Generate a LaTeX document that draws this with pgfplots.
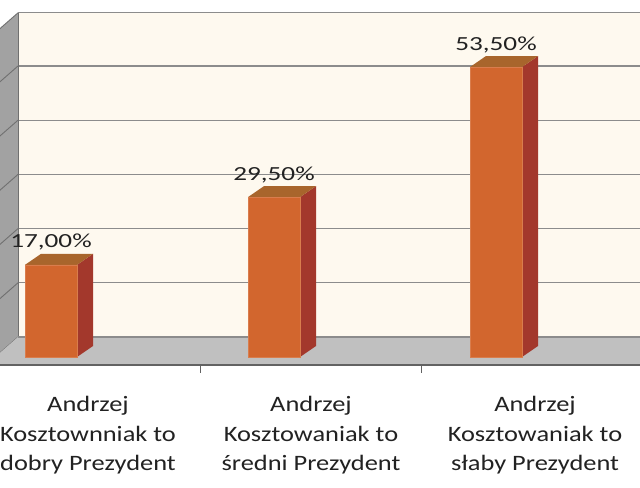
\documentclass[border=0pt]{standalone}
\usepackage{fontspec}
\setmainfont{Carlito}
\newfontfamily\pctfont[FakeStretch=1.36]{Carlito}
\newfontfamily\labfont[FakeStretch=1.2]{Carlito}
\usepackage{pgfplots}
\pgfplotsset{compat=1.18}
\definecolor{wallbg}{HTML}{FEF9EF}
\definecolor{gridc}{HTML}{8C8C8C}
\definecolor{leftwall}{HTML}{A2A2A2}
\definecolor{floorc}{HTML}{C0C0C0}
\definecolor{barfront}{HTML}{D2662E}
\definecolor{barside}{HTML}{A3382C}
\definecolor{bartop}{HTML}{A8652C}
\definecolor{txt}{HTML}{222222}
\begin{document}
\begin{tikzpicture}
\begin{axis}[
  scale only axis, width=640pt, height=487pt,
  xmin=0, xmax=640, ymin=-23.985, ymax=65.867,
  hide axis, clip=true,
]
% background
\addplot[draw=none, fill=white] coordinates {(0,-23.985) (640,-23.985) (640,65.867) (0,65.867)} -- cycle;
% back wall
\addplot[draw=none, fill=wallbg] coordinates {(18,3.69) (700,3.69) (700,63.5) (18,63.5)} -- cycle;
% back gridlines
\foreach \g in {13.69,23.69,33.69,43.69,53.69,63.5}{
  \addplot[gridc, line width=1.3pt] coordinates {(18,\g) (700,\g)};
}
% left wall
\addplot[draw=none, fill=leftwall] coordinates {(18,3.69) (18,63.5) (-14,58.33) (-14,-1.48)} -- cycle;
\foreach \g/\h in {3.69/-1.48,13.69/8.52,23.69/18.52,33.69/28.52,43.69/38.52,53.69/48.52,63.5/58.33}{
  \addplot[gridc!80!black, line width=0.9pt] coordinates {(18,\g) (-14,\h)};
}
\addplot[gridc!80!black, line width=0.9pt] coordinates {(18,3.69) (18,63.5)};
% floor
\addplot[draw=none, fill=floorc] coordinates {(18,3.69) (700,3.69) (668,-1.48) (-14,-1.48)} -- cycle;
\addplot[gridc, line width=1.3pt] coordinates {(18,3.69) (700,3.69)};
\addplot[gridc!70!black, line width=1.3pt] coordinates {(0,-1.48) (640,-1.48)};
% category ticks
\addplot[gridc!70!black, line width=1pt] coordinates {(200,-1.48) (200,-3.0)};
\addplot[gridc!70!black, line width=1pt] coordinates {(421,-1.48) (421,-3.0)};
% bar sides
\addplot[draw=none, fill=barside] coordinates {(77,0) (93,2.03) (93,19.03) (77,17)} -- cycle;
\addplot[draw=none, fill=barside] coordinates {(300,0) (316,2.03) (316,31.53) (300,29.5)} -- cycle;
\addplot[draw=none, fill=barside] coordinates {(522,0) (538,2.03) (538,55.53) (522,53.5)} -- cycle;
% bar tops
\addplot[draw=none, fill=bartop] coordinates {(25,17) (41,19.03) (93,19.03) (77,17)} -- cycle;
\addplot[draw=none, fill=bartop] coordinates {(248,29.5) (264,31.53) (316,31.53) (300,29.5)} -- cycle;
\addplot[draw=none, fill=bartop] coordinates {(470,53.5) (486,55.53) (538,55.53) (522,53.5)} -- cycle;
% bar fronts
\addplot[ybar, bar width=52, draw=barfront!85!white, line width=0.4pt, fill=barfront,
  point meta=explicit symbolic,
  nodes near coords,
  every node near coord/.append style={anchor=base, yshift=17pt, font=\pctfont\fontsize{20}{24}\selectfont, text=txt},
] coordinates {(51,17) [17,00\%] (274,29.5) [29,50\%] (496,53.5) [53,50\%]};
% category labels
\node[anchor=base, text=txt, font=\labfont\fontsize{22}{26}\selectfont] at (axis cs:88,-10.09) {Andrzej};
\node[anchor=base, text=txt, font=\labfont\fontsize{22}{26}\selectfont] at (axis cs:88,-15.50) {Kosztownniak to};
\node[anchor=base, text=txt, font=\labfont\fontsize{22}{26}\selectfont] at (axis cs:88,-20.85) {dobry Prezydent};
\node[anchor=base, text=txt, font=\labfont\fontsize{22}{26}\selectfont] at (axis cs:311,-10.09) {Andrzej};
\node[anchor=base, text=txt, font=\labfont\fontsize{22}{26}\selectfont] at (axis cs:311,-15.50) {Kosztowaniak to};
\node[anchor=base, text=txt, font=\labfont\fontsize{22}{26}\selectfont] at (axis cs:311,-20.85) {średni Prezydent};
\node[anchor=base, text=txt, font=\labfont\fontsize{22}{26}\selectfont] at (axis cs:535,-10.09) {Andrzej};
\node[anchor=base, text=txt, font=\labfont\fontsize{22}{26}\selectfont] at (axis cs:535,-15.50) {Kosztowaniak to};
\node[anchor=base, text=txt, font=\labfont\fontsize{22}{26}\selectfont] at (axis cs:535,-20.85) {słaby Prezydent};
\end{axis}
\end{tikzpicture}
\end{document}
